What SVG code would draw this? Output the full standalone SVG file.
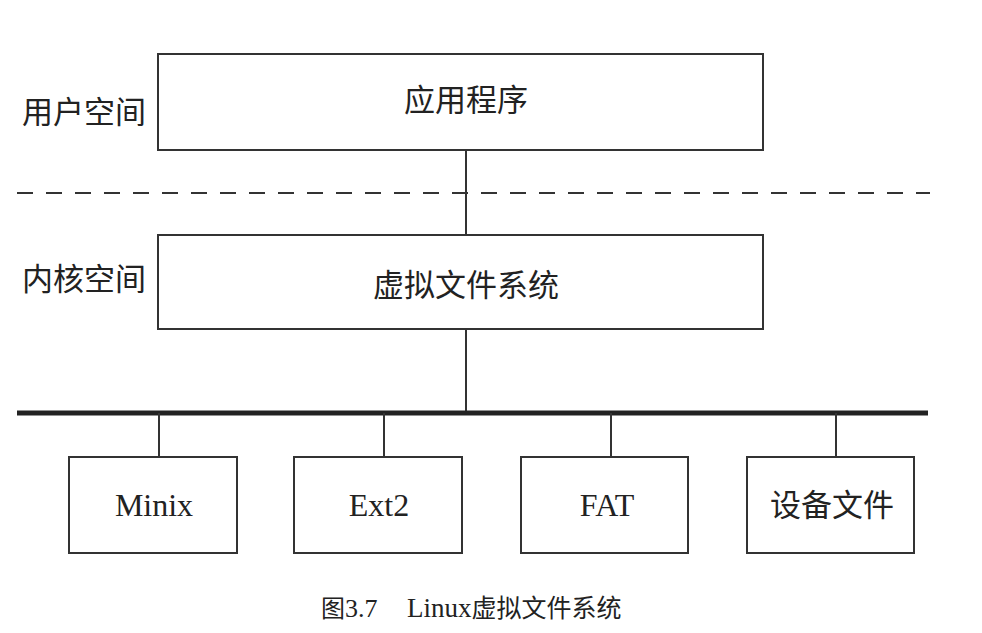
<svg xmlns="http://www.w3.org/2000/svg" width="982" height="633" viewBox="0 0 982 633">
<style>
.box{fill:#fff;stroke:#333;stroke-width:2}
.ln{stroke:#333;stroke-width:2;fill:none}
.cn{font-family:"Noto Sans CJK SC","Noto Sans",sans-serif;fill:#222;text-anchor:middle}
.en{font-family:"Liberation Serif","Noto Sans CJK SC",serif;fill:#222;text-anchor:middle}
</style>
<rect width="982" height="633" fill="#fff"/>
<g id="connectors">
<line class="ln" x1="466" y1="150" x2="466" y2="235"/>
<line class="ln" x1="466" y1="329" x2="466" y2="413"/>
<line x1="17" y1="193" x2="930" y2="193" stroke="#333" stroke-width="2" stroke-dasharray="16,13"/>
<line x1="17" y1="413" x2="928" y2="413" stroke="#222" stroke-width="5"/>
<line class="ln" x1="159" y1="413" x2="159" y2="457"/>
<line class="ln" x1="384" y1="413" x2="384" y2="457"/>
<line class="ln" x1="611" y1="413" x2="611" y2="457"/>
<line class="ln" x1="836" y1="413" x2="836" y2="457"/>
</g>
<g id="label-user"><text class="cn" x="84" y="123" font-size="31">用户空间</text></g>
<g id="label-kernel"><text class="cn" x="84" y="290" font-size="31">内核空间</text></g>
<g id="app"><rect class="box" x="158" y="54" width="605" height="96"/><text class="cn" x="466" y="111" font-size="31">应用程序</text></g>
<g id="vfs"><rect class="box" x="158" y="235" width="605" height="94"/><text class="cn" x="466" y="296" font-size="31">虚拟文件系统</text></g>
<g id="minix"><rect class="box" x="69" y="457" width="168" height="96"/><text class="en" x="154" y="516" font-size="32">Minix</text></g>
<g id="ext2"><rect class="box" x="294" y="457" width="168" height="96"/><text class="en" x="379" y="516" font-size="32">Ext2</text></g>
<g id="fat"><rect class="box" x="521" y="457" width="167" height="96"/><text class="en" x="607" y="516" font-size="32">FAT</text></g>
<g id="dev"><rect class="box" x="747" y="457" width="167" height="96"/><text class="cn" x="832" y="516" font-size="31">设备文件</text></g>
<g id="caption"><text y="617" fill="#222"><tspan x="321" font-size="24" font-family="Noto Sans CJK SC,sans-serif">图</tspan><tspan font-size="26" font-family="Liberation Serif,serif">3.7</tspan><tspan x="407" font-size="27" font-family="Liberation Serif,serif">Linux</tspan><tspan font-size="25" font-family="Noto Sans CJK SC,sans-serif">虚拟文件系统</tspan></text></g>
</svg>
